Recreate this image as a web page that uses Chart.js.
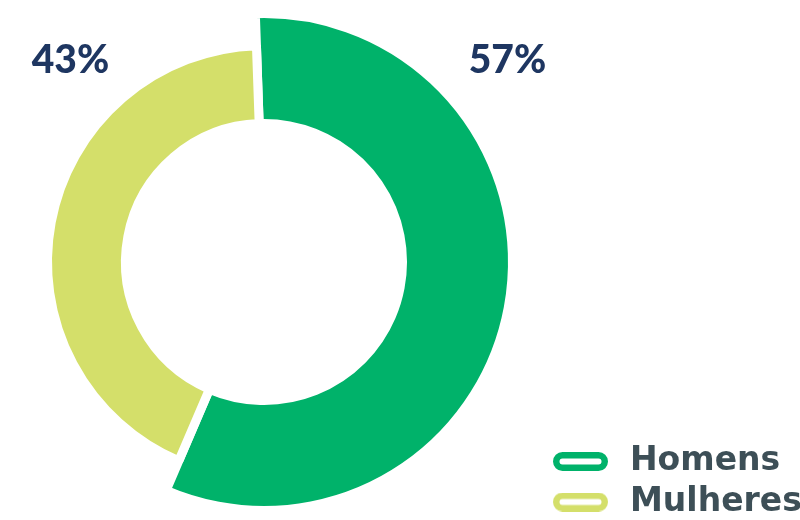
<!DOCTYPE html>
<html>
<head>
<meta charset="utf-8">
<script src="https://cdn.jsdelivr.net/npm/chart.js@4/dist/chart.umd.min.js"></script>
<style>
  html, body { margin: 0; padding: 0; background: #ffffff; overflow: hidden; }
  #wrap { position: relative; width: 800px; height: 520px; overflow: hidden; }
  #c { position: absolute; left: -12px; top: -2px; }
</style>
</head>
<body>
<div id="wrap"><canvas id="c" width="852" height="528"></canvas></div>
<script>
const categories = ['Homens', 'Mulheres'];
const values = [57, 43];
const sliceColors = ['#00b26a', '#d4df6a'];
const percentLabels = values.map(v => v + '%');

// style: relative ring thickness per slice and label offsets from centre
const ringThickness = [1, 0.709];
const labelOffsets = [[243.5, -189], [-193.5, -189]];

// legend font & layout sizing (style)
const legendFont = { family: 'DejaVu Sans', size: 33, weight: 'bold', lineHeight: 1 };
const legendPadding = 7.5;
const symbolWidth = 66;
const measureCtx = document.createElement('canvas').getContext('2d');
measureCtx.font = 'bold 33px DejaVu Sans';
const maxTextWidth = Math.max(...categories.map(t => measureCtx.measureText(t).width));
const legendWidth = legendPadding + symbolWidth + legendFont.size / 2 + maxTextWidth + 10;
const rightPad = 852 - 552 - legendWidth;

// pill-shaped legend symbols
function pill(color) {
  const c = document.createElement('canvas');
  c.width = 55; c.height = 19;
  const g = c.getContext('2d');
  g.lineWidth = 6.5;
  g.strokeStyle = color;
  g.fillStyle = '#ffffff';
  g.beginPath();
  g.roundRect(3.25, 3.25, 48.5, 12.5, 6.25);
  g.fill();
  g.stroke();
  return c;
}
const pills = sliceColors.map(pill);

const ringPlugin = {
  id: 'ringThickness',
  afterDatasetsUpdate(chart) {
    chart.getDatasetMeta(0).data.forEach((arc, i) => {
      arc.outerRadius = arc.innerRadius + (arc.outerRadius - arc.innerRadius) * ringThickness[i];
    });
  }
};

const percentPlugin = {
  id: 'percentLabels',
  afterDatasetsDraw(chart) {
    const ctx = chart.ctx;
    const arcs = chart.getDatasetMeta(0).data;
    ctx.save();
    ctx.font = '900 39px Lato';
    ctx.fillStyle = '#1e3661';
    ctx.textAlign = 'center';
    ctx.textBaseline = 'alphabetic';
    arcs.forEach((arc, i) => {
      ctx.fillText(percentLabels[i], arc.x + labelOffsets[i][0], arc.y + labelOffsets[i][1]);
    });
    ctx.restore();
  }
};

new Chart(document.getElementById('c'), {
  type: 'doughnut',
  data: {
    labels: categories,
    datasets: [{
      data: values,
      backgroundColor: sliceColors,
      borderColor: '#ffffff',
      borderWidth: 9,
      hoverOffset: 0
    }]
  },
  options: {
    responsive: false,
    animation: false,
    rotation: -2,
    radius: 248.5,
    cutout: '55.73%',
    layout: { padding: { left: 0, right: rightPad, top: 0, bottom: 0 } },
    plugins: {
      tooltip: { enabled: false },
      legend: {
        position: 'right',
        align: 'end',
        labels: {
          usePointStyle: true,
          pointStyleWidth: symbolWidth,
          padding: legendPadding,
          color: '#3d4f57',
          font: legendFont,
          generateLabels() {
            return categories.map((t, i) => ({
              text: t,
              fillStyle: sliceColors[i],
              strokeStyle: sliceColors[i],
              lineWidth: 0,
              pointStyle: pills[i],
              fontColor: '#3d4f57',
              hidden: false,
              index: i
            }));
          }
        }
      }
    }
  },
  plugins: [ringPlugin, percentPlugin]
});
</script>
</body>
</html>
